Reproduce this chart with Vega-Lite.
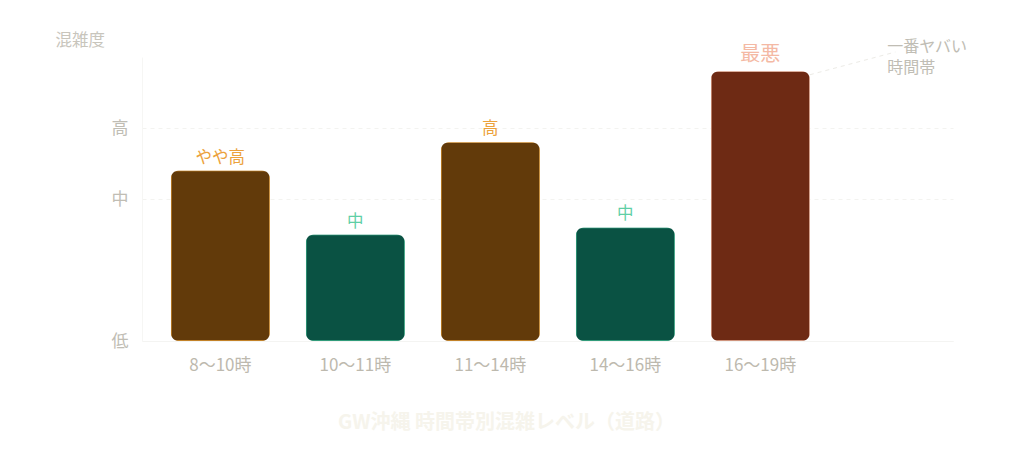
{
  "$schema": "https://vega.github.io/schema/vega-lite/v6.json",
  "width": 811,
  "height": 284,
  "autosize": {"type": "none"},
  "padding": {"left": 142, "top": 57, "right": 71, "bottom": 114},
  "background": "#ffffff",
  "config": {
    "view": {"stroke": null},
    "font": "Noto Sans CJK JP"
  },
  "title": {
    "text": "GW沖縄 時間帯別混雑レベル（道路）",
    "orient": "bottom",
    "anchor": "middle",
    "fontSize": 20,
    "fontWeight": "bold",
    "color": "#f6f4ec",
    "dx": -41,
    "offset": 40
  },
  "data": {
    "values": [
      {"time": "8〜10時", "level": 2.4, "label": "やや高", "tier": "warn"},
      {"time": "10〜11時", "level": 1.5, "label": "中", "tier": "ok"},
      {"time": "11〜14時", "level": 2.8, "label": "高", "tier": "warn"},
      {"time": "14〜16時", "level": 1.6, "label": "中", "tier": "ok"},
      {"time": "16〜19時", "level": 3.8, "label": "最悪", "tier": "worst"}
    ]
  },
  "encoding": {
    "x": {
      "field": "time",
      "type": "nominal",
      "sort": null,
      "scale": {
        "domain": ["8〜10時", "10〜11時", "11〜14時", "14〜16時", "16〜19時", "note"],
        "paddingInner": 0.2667,
        "paddingOuter": 0.137,
        "align": 0.78
      },
      "axis": {
        "title": null,
        "labelAngle": 0,
        "labelExpr": "datum.value === 'note' ? '' : datum.value",
        "labelFontSize": 17,
        "labelColor": "#bdb9ae",
        "labelPadding": 16,
        "ticks": false,
        "domain": true,
        "domainColor": "#f4f4f2",
        "domainWidth": 1,
        "grid": false
      }
    },
    "y": {
      "field": "level",
      "type": "quantitative",
      "scale": {"domain": [0, 4], "nice": false},
      "axis": {
        "title": "混雑度",
        "titleAngle": 0,
        "titleAlign": "left",
        "titleBaseline": "alphabetic",
        "titleX": -87,
        "titleY": -12,
        "titleFontSize": 16.5,
        "titleFontWeight": "normal",
        "titleColor": "#c8c5bc",
        "values": [0, 2, 3],
        "labelExpr": "datum.value === 0 ? '低' : datum.value === 2 ? '中' : '高'",
        "labelFontSize": 17,
        "labelColor": "#c0bdb4",
        "labelPadding": 14,
        "ticks": false,
        "domain": true,
        "domainColor": "#f6f6f4",
        "grid": true,
        "gridColor": "#f3f3f0",
        "gridDash": [4, 4]
      }
    }
  },
  "resolve": {"scale": {"color": "independent"}},
  "layer": [
    {
      "mark": {"type": "bar", "cornerRadius": 8, "strokeWidth": 1.5},
      "encoding": {
        "color": {
          "field": "tier",
          "type": "nominal",
          "scale": {"domain": ["warn", "ok", "worst"], "range": ["#623a0a", "#0a5243", "#6e2a14"]},
          "legend": null
        },
        "stroke": {
          "field": "tier",
          "type": "nominal",
          "scale": {"domain": ["warn", "ok", "worst"], "range": ["#e39a33", "#3fb58e", "#f0b8a0"]},
          "legend": null
        }
      }
    },
    {
      "transform": [{"filter": "datum.tier !== 'worst'"}],
      "mark": {"type": "text", "baseline": "bottom", "dy": -5, "fontSize": 16.5, "fontWeight": "normal"},
      "encoding": {
        "text": {"field": "label"},
        "color": {
          "field": "tier",
          "type": "nominal",
          "scale": {"domain": ["warn", "ok"], "range": ["#eca23c", "#5fcfa6"]},
          "legend": null
        }
      }
    },
    {
      "transform": [{"filter": "datum.tier === 'worst'"}],
      "mark": {"type": "text", "baseline": "bottom", "dy": -6, "fontSize": 20, "fontWeight": "normal", "color": "#f4b9a4"},
      "encoding": {"text": {"field": "label"}}
    },
    {
      "transform": [{"filter": "datum.tier === 'worst'"}],
      "mark": {"type": "rule", "strokeDash": [4, 4], "color": "#ecebe6", "strokeWidth": 1},
      "encoding": {
        "x": {"datum": "16〜19時", "bandPosition": 1},
        "x2": {"datum": "note"},
        "y": {"datum": 3.75},
        "y2": {"datum": 4.07}
      }
    },
    {
      "transform": [{"filter": "datum.tier === 'worst'"}],
      "mark": {"type": "text", "align": "left", "baseline": "top", "dx": -8, "fontSize": 16, "fontWeight": "normal", "lineHeight": 21, "color": "#c0bdb4", "lineBreak": "\n"},
      "encoding": {
        "x": {"datum": "note"},
        "y": {"datum": 4.26},
        "text": {"value": "一番ヤバい\n時間帯"}
      }
    }
  ]
}
